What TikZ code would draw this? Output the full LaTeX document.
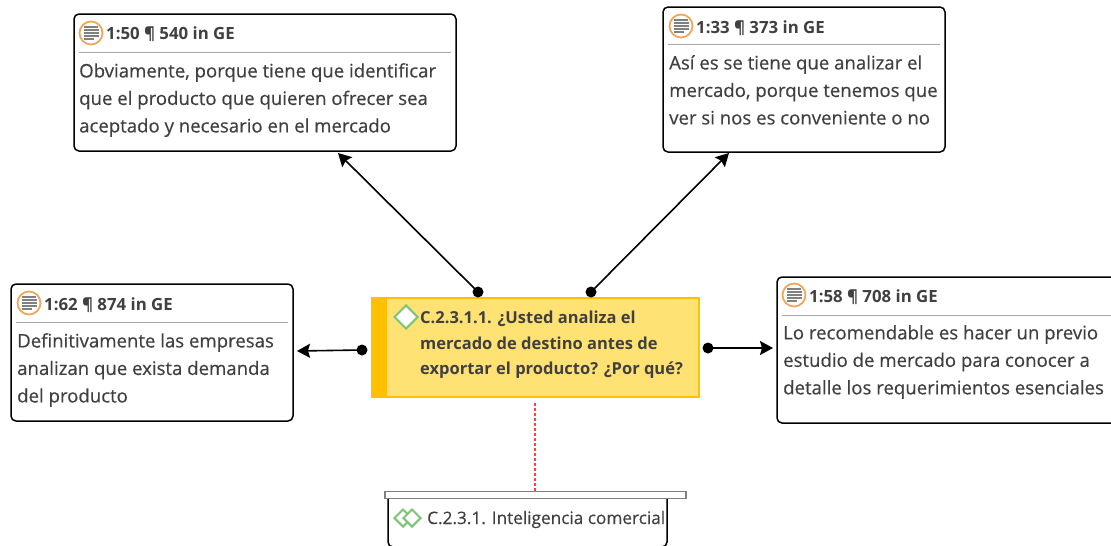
\documentclass[tikz,border=0pt]{standalone}
\usepackage{fontspec}
\setmainfont{Open Sans}
\newfontfamily\medfont[FakeBold=0.4]{Open Sans}
\usetikzlibrary{arrows.meta,shapes.geometric}
\definecolor{txt}{HTML}{404040}
\definecolor{ora}{HTML}{F2A65A}
\definecolor{sepc}{HTML}{A6A6A6}
\definecolor{grn}{HTML}{7CC576}
\definecolor{yelb}{HTML}{FFE174}
\definecolor{yels}{HTML}{FFC000}
\tikzset{
 x=1pt,y=-1pt,
 quote/.style={draw=black,line width=1.5pt,rounded corners=5pt,fill=white},
 sepline/.style={draw=sepc,line width=1pt},
 head/.style={anchor=base west,inner sep=0pt,text=txt,font=\fontsize{16.8}{20}\selectfont\bfseries},
 body/.style={anchor=north west,inner sep=0pt,text=txt,font=\fontsize{18.6}{27.5}\medfont,align=left},
 conn/.style={draw=black,line width=1.6pt,-{Stealth[length=13pt,width=14pt,inset=2pt]}},
 dotn/.style={circle,fill=black,minimum size=11pt,inner sep=0pt},
 ringn/.style={circle,draw=ora,line width=1.8pt,fill=white,minimum size=23pt,inner sep=0pt},
}
\newcommand{\docicon}[2]{%
 \node[ringn] (#1) at (#2) {};
 \foreach \d/\w in {-6/14,-3/15,0/15,3/15,6/10}
   \draw[line width=1.4pt,draw=gray] ([xshift=-7.5pt,yshift=-\d pt]#1.center) -- ++(\w,0);
}
\begin{document}
\begin{tikzpicture}
\useasboundingbox (0,0) rectangle (1111,546);
% quotation boxes
\node[quote,minimum width=382pt,minimum height=137pt,inner sep=0pt] (qa) at (265,82.5) {};
\node[quote,minimum width=282pt,minimum height=145pt,inner sep=0pt] (qb) at (804,79.5) {};
\node[quote,minimum width=282pt,minimum height=137pt,inner sep=0pt] (qc) at (152,352.5) {};
\node[quote,minimum width=350pt,minimum height=146pt,inner sep=0pt] (qd) at (952,350) {};
% headers
\docicon{ia}{91,33}
\node[head] (ha) at (106,39) {1:50 ¶ 540 in GE};
\draw[sepline] (79,52) -- (451,52);
\docicon{ib}{681,26}
\node[head] (hb) at (696,33) {1:33 ¶ 373 in GE};
\draw[sepline] (668,44) -- (940,44);
\docicon{ic}{29,303}
\node[head] (hc) at (44,310) {1:62 ¶ 874 in GE};
\draw[sepline] (16,322) -- (288,322);
\docicon{id}{794,295}
\node[head] (hd) at (809,302) {1:58 ¶ 708 in GE};
\draw[sepline] (782,315) -- (1111,315);
% bodies
\node[body] (ba) at (79,63) {Obviamente, porque tiene que identificar\\que el producto que quieren ofrecer sea\\aceptado y necesario en el mercado};
\node[body] (bb) at (669,55) {Así es se tiene que analizar el\\mercado, porque tenemos que\\ver si nos es conveniente o no};
\node[body] (bc) at (17,333) {Definitivamente las empresas\\analizan que exista demanda\\del producto};
\node[body] (bd) at (783,325) {Lo recomendable es hacer un previo\\estudio de mercado para conocer a\\detalle los requerimientos esenciales};
% centre code
\node[draw=yels,fill=yelb,line width=1.2pt,minimum width=327pt,minimum height=99pt,inner sep=0pt] (cc) at (535.5,347.5) {};
\fill[yels] (372,298) rectangle (387,397);
\node[diamond,draw=grn,fill=white,line width=2pt,minimum size=24pt,inner sep=0pt] (dm) at (406,317) {};
\node[anchor=north west,inner sep=0pt,text=txt,align=left,font=\fontsize{16.5}{25.5}\selectfont\bfseries] (ct) at (420,311) {C.2.3.1.1. ¿Usted analiza el\\mercado de destino antes de\\exportar el producto? ¿Por qué?};
% connector ends
\node[dotn] (s1) at (478,292) {}; \coordinate (e1) at (338,153);
\node[dotn] (s2) at (591,292) {}; \coordinate (e2) at (729,153);
\node[dotn] (s3) at (362,350) {}; \coordinate (e3) at (297,351);
\node[dotn] (s4) at (708,348) {}; \coordinate (e4) at (773,348);
\draw[conn] (s1.center) -- (e1);
\draw[conn] (s2.center) -- (e2);
\draw[conn] (s3.center) -- (e3);
\draw[conn] (s4.center) -- (e4);
% parent code
\draw[draw=black,line width=1.5pt,rounded corners=5pt] (388,498) -- (388,547) -- (667,547) -- (667,498);
\node[draw=gray,fill=white,line width=1.2pt,minimum width=301pt,minimum height=7pt,inner sep=0pt] (bar) at (535.5,495) {};
\coordinate (rd) at (535,403);
\draw[draw=red!75!white,line width=1.2pt,dash pattern=on 2.5pt off 2.5pt] (rd) -- (rd |- bar.north);
\node[diamond,draw=grn,line width=2pt,minimum size=18pt,inner sep=0pt] (d1) at (403,518) {};
\node[diamond,draw=grn,fill=white,line width=2pt,minimum size=18pt,inner sep=0pt] (d2) at (412,518) {};
\node[anchor=base west,inner sep=0pt,text=txt,font=\fontsize{17.2}{20}\medfont] (pt) at (427,524) {C.2.3.1. Inteligencia comercial};
\end{tikzpicture}
\end{document}
